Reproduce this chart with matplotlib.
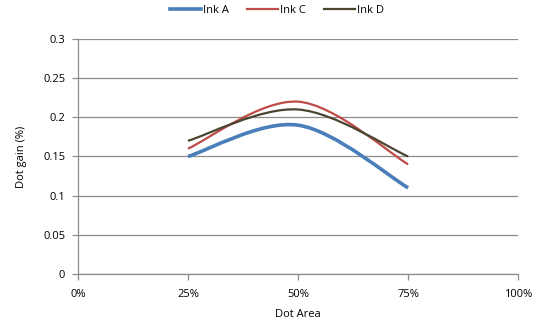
import numpy as np
import matplotlib.pyplot as plt
from matplotlib.path import Path
from matplotlib.patches import PathPatch
from matplotlib.lines import Line2D

# данные
dot_area = [0.25, 0.50, 0.75]
ink_a = [0.15, 0.19, 0.11]
ink_c = [0.16, 0.22, 0.14]
ink_d = [0.17, 0.21, 0.15]

series = [('Ink A', ink_a, '#4a7ebb', 2.6),
          ('Ink C', ink_c, '#be4b48', 1.6),
          ('Ink D', ink_d, '#4a4530', 1.6)]

x_ticks = [0, 0.25, 0.5, 0.75, 1.0]
x_labels = ['0%', '25%', '50%', '75%', '100%']
y_ticks = [0, 0.05, 0.1, 0.15, 0.2, 0.25, 0.3]
y_labels = ['0', '0.05', '0.1', '0.15', '0.2', '0.25', '0.3']

plt.rcParams['font.family'] = ['Open Sans', 'DejaVu Sans']
plt.rcParams['font.size'] = 8


def smooth_path(xs, ys):
    # сглаживание как в Excel: кривые Безье через точки
    pts = np.column_stack([xs, ys])
    n = len(pts)
    verts = [pts[0]]
    codes = [Path.MOVETO]
    for i in range(n - 1):
        p0 = pts[max(i - 1, 0)]
        p1 = pts[i]
        p2 = pts[i + 1]
        p3 = pts[min(i + 2, n - 1)]
        c1 = p1 + (p2 - p0) / 6
        c2 = p2 - (p3 - p1) / 6
        verts += [c1, c2, p2]
        codes += [Path.CURVE4] * 3
    return Path(verts, codes)


fig = plt.figure(figsize=(5.37, 3.25), dpi=100)
ax = fig.add_axes([0.145, 0.157, 0.82, 0.723])

handles = []
for name, vals, col, lw in series:
    patch = PathPatch(smooth_path(dot_area, vals), facecolor='none',
                      edgecolor=col, linewidth=lw, capstyle='butt', zorder=3)
    ax.add_patch(patch)
    handles.append(Line2D([], [], color=col, linewidth=lw, label=name))

ax.set_xlim(0, 1)
ax.set_ylim(0, 0.3)
ax.set_xticks(x_ticks)
ax.set_xticklabels(x_labels)
ax.set_yticks(y_ticks)
ax.set_yticklabels(y_labels)
ax.grid(axis='y', color='#8c8c8c', linewidth=0.9)
ax.set_axisbelow(True)

for s in ['top', 'right']:
    ax.spines[s].set_visible(False)
for s in ['left', 'bottom']:
    ax.spines[s].set_color('#8c8c8c')
    ax.spines[s].set_linewidth(0.9)
ax.tick_params(colors='#8c8c8c', labelcolor='black', length=4, width=0.9)
ax.tick_params(axis='x', pad=7)
ax.tick_params(axis='y', pad=5)

ax.set_xlabel('Dot Area', labelpad=6)
ax.set_ylabel('Dot gain (%)', labelpad=12)

fig.legend(handles=handles, loc='upper center', bbox_to_anchor=(0.516, 1.015),
           ncol=3, frameon=False, handlelength=2.8, columnspacing=1.6,
           handletextpad=0.2)

plt.savefig('out.png', dpi=100)
